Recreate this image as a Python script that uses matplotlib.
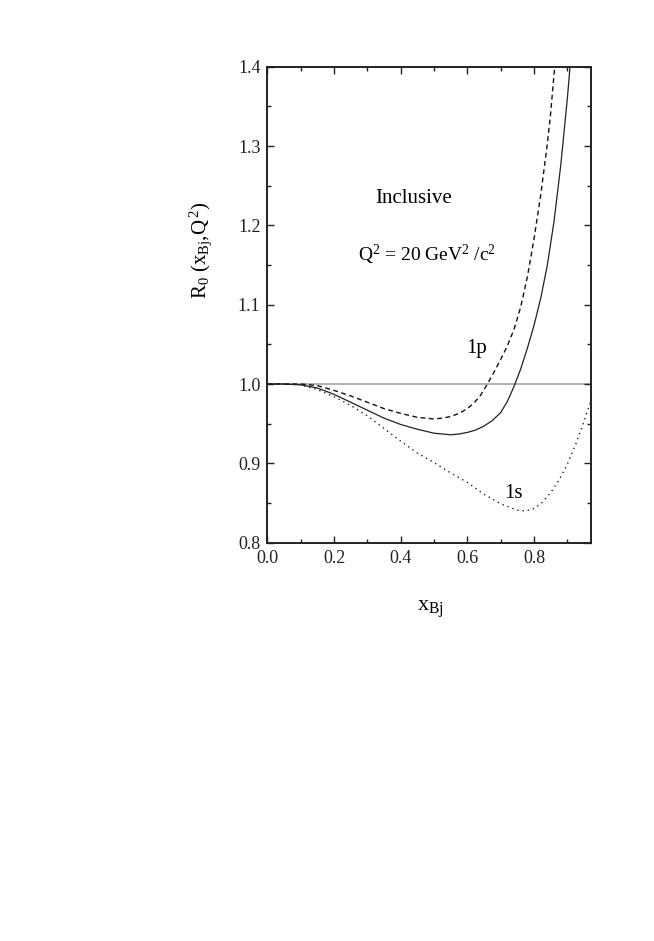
import matplotlib
matplotlib.use('Agg')
import matplotlib.pyplot as plt
from matplotlib.ticker import MultipleLocator

plt.rcParams['font.family'] = ['Liberation Serif', 'DejaVu Serif']
plt.rcParams['mathtext.fontset'] = 'custom'
plt.rcParams['mathtext.rm'] = 'Liberation Serif'
plt.rcParams['mathtext.it'] = 'Liberation Serif'
plt.rcParams['mathtext.bf'] = 'Liberation Serif:bold'

# solid curve (total)
x_tot = [0.0, 0.05, 0.1, 0.15, 0.2, 0.25, 0.3, 0.35, 0.4, 0.45, 0.5, 0.525,
         0.55, 0.575, 0.6, 0.625, 0.65, 0.675, 0.7, 0.72, 0.74, 0.76, 0.78,
         0.8, 0.82, 0.84, 0.86, 0.88, 0.9, 0.908]
r_tot = [1.0, 1.0, 0.999, 0.995, 0.987, 0.977, 0.967, 0.957, 0.949, 0.943,
         0.938, 0.937, 0.936, 0.937, 0.939, 0.942, 0.947, 0.954, 0.964,
         0.978, 0.997, 1.019, 1.045, 1.074, 1.108, 1.150, 1.205, 1.275,
         1.36, 1.40]

# dashed curve (1p)
x_1p = [0.0, 0.05, 0.1, 0.15, 0.2, 0.25, 0.3, 0.35, 0.4, 0.45, 0.5, 0.525,
        0.55, 0.575, 0.6, 0.62, 0.64, 0.66, 0.68, 0.7, 0.72, 0.74, 0.76,
        0.78, 0.8, 0.82, 0.84, 0.85, 0.862]
r_1p = [1.0, 1.0, 1.0, 0.998, 0.992, 0.985, 0.977, 0.969, 0.963, 0.958,
        0.956, 0.957, 0.959, 0.963, 0.969, 0.976, 0.986, 1.0, 1.015, 1.031,
        1.048, 1.069, 1.097, 1.135, 1.183, 1.238, 1.303, 1.342, 1.40]

# dotted curve (1s)
x_1s = [0.0, 0.05, 0.1, 0.15, 0.2, 0.25, 0.3, 0.35, 0.4, 0.45, 0.5, 0.55,
        0.6, 0.65, 0.7, 0.75, 0.775, 0.8, 0.825, 0.85, 0.875, 0.9, 0.925,
        0.95, 0.973]
r_1s = [1.0, 1.0, 0.999, 0.993, 0.984, 0.973, 0.960, 0.944, 0.928, 0.913,
        0.901, 0.888, 0.876, 0.861, 0.849, 0.841, 0.840, 0.843, 0.851,
        0.863, 0.879, 0.899, 0.924, 0.953, 0.982]

fig = plt.figure(figsize=(6.54, 9.41), dpi=100)
ax = fig.add_axes([0.4088, 0.4233, 0.4944, 0.5058])

ax.axhline(1.0, color='#ababab', lw=1.3, zorder=1)
ax.plot(x_tot, r_tot, color='#222222', lw=0.9)
ax.plot(x_1p, r_1p, color='#111111', lw=1.0, linestyle=(0, (3.5, 2.5)))
ax.plot(x_1s, r_1s, color='#222222', lw=1.0, linestyle=(0, (1, 2.8)))

ax.set_xlim(0.0, 0.97)
ax.set_ylim(0.8, 1.4)

ax.xaxis.set_major_locator(MultipleLocator(0.2))
ax.xaxis.set_minor_locator(MultipleLocator(0.1))
ax.yaxis.set_major_locator(MultipleLocator(0.1))
ax.yaxis.set_minor_locator(MultipleLocator(0.05))
ax.xaxis.set_major_formatter(lambda v, p: '%.1f' % v)
ax.yaxis.set_major_formatter(lambda v, p: '%.1f' % v)

ax.tick_params(which='both', direction='in', top=True, right=True,
               width=1.0, labelsize=13, colors='#222222')
ax.tick_params(which='major', length=5, pad=5)
ax.tick_params(which='minor', length=3)
for s in ax.spines.values():
    s.set_linewidth(1.4)
    s.set_color('#222222')

ax.set_ylabel(r'R$_0$ (x$_{\mathrm{Bj}}$,Q$^{\,2}$)', fontsize=15)
ax.yaxis.set_label_coords(-0.165, 0.615)
ax.set_xlabel(r'x$_{\mathrm{Bj}}$', fontsize=16)
ax.xaxis.set_label_coords(0.505, -0.118)

ax.text(0.438, 1.234, 'Inclusive', fontsize=15, ha='center', va='center')
ax.text(0.478, 1.163, r'Q$^2$ = 20 GeV$^2$ /c$^2$', fontsize=14,
        ha='center', va='center')
ax.text(0.628, 1.045, '1p', fontsize=15, ha='center', va='center')
ax.text(0.738, 0.862, '1s', fontsize=15, ha='center', va='center')

fig.savefig('out.png', dpi=100)
